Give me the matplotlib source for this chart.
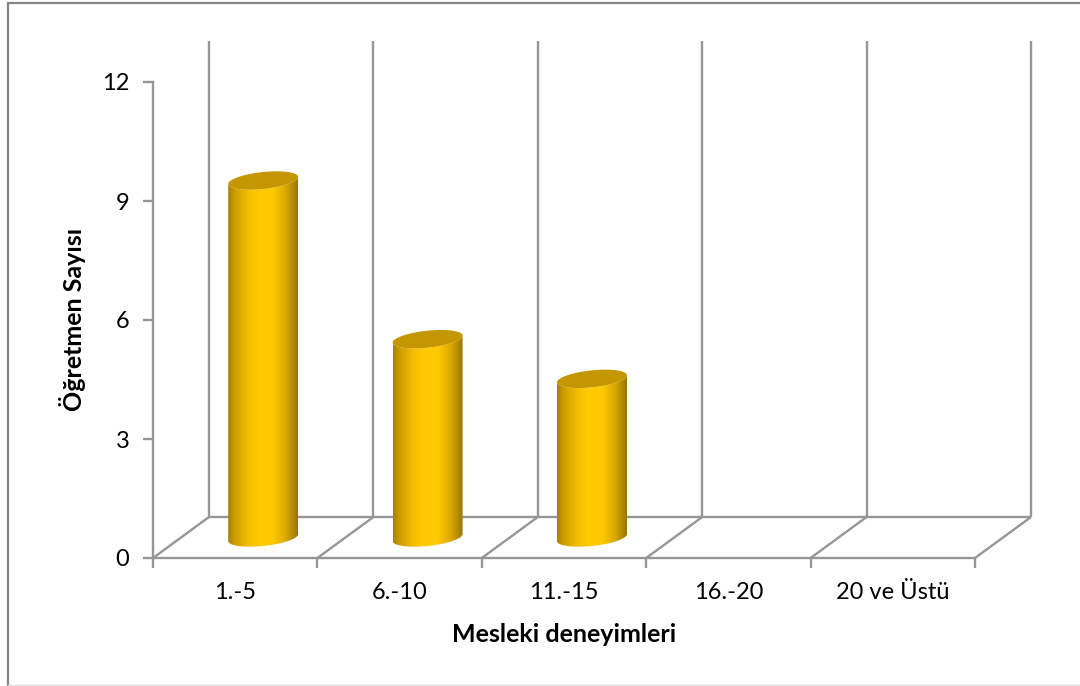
import matplotlib
matplotlib.use('Agg')
import matplotlib.pyplot as plt
import numpy as np
from matplotlib.colors import LinearSegmentedColormap
from matplotlib.lines import Line2D
from matplotlib.patches import Polygon, Rectangle

categories = ['1.-5', '6.-10', '11.-15', '16.-20', '20 ve Üstü']
teachers = [9, 5, 4, 0, 0]
y_ticks = [0, 3, 6, 9, 12]

W, H = 1080, 686
LEFT, RIGHT, TOP, BOTTOM = 153, 975, 82, 558
GREY = '#969696'
LW = 1.7

# floor depth in axis units (56 px across, 41 px up)
DEPTH_X = 56 / ((RIGHT - LEFT) / len(categories))
DEPTH_Y = 41 / ((BOTTOM - TOP) / y_ticks[-1])

plt.rcParams['font.family'] = ['Lato', 'DejaVu Sans']

fig = plt.figure(figsize=(W / 100, H / 100), dpi=100)
ax = fig.add_axes([LEFT / W, 1 - BOTTOM / H, (RIGHT - LEFT) / W, (BOTTOM - TOP) / H])
ax.patch.set_visible(False)

# chart frame
fig.add_artist(Rectangle((8 / W, -1 / H), 1.2, 1 - 2 / H, transform=fig.transFigure,
                         fill=False, edgecolor='#868686', linewidth=1.6))
fig.add_artist(Line2D([8 / W, 1], [1 / H, 1 / H], transform=fig.transFigure,
                      color='#dcdcdc', lw=1))

n = len(categories)
ax.set_xlim(0, n)
ax.set_ylim(0, y_ticks[-1])


def wall(xs, ys):
    ax.plot(xs, ys, color=GREY, lw=LW, clip_on=False, solid_capstyle='butt', zorder=1)


# back wall, floor and the diagonals
for i in range(n + 1):
    wall([i + DEPTH_X] * 2, [DEPTH_Y, y_ticks[-1] + DEPTH_Y])
    wall([i, i + DEPTH_X], [0, DEPTH_Y])
wall([DEPTH_X, n + DEPTH_X], [DEPTH_Y, DEPTH_Y])

for s in ['top', 'right']:
    ax.spines[s].set_visible(False)
for s in ['left', 'bottom']:
    ax.spines[s].set_color(GREY)
    ax.spines[s].set_linewidth(LW)

ax.set_xticks(range(n + 1))
ax.set_xticklabels([])
ax.set_xticks(np.arange(n) + 0.5, categories, minor=True)
ax.set_yticks(y_ticks)
ax.tick_params(axis='both', which='major', color=GREY, width=LW, length=7, labelsize=17, pad=10)
ax.tick_params(axis='x', which='minor', length=0, labelsize=17, pad=17, labelcolor='black')

# cylinders
body_cmap = LinearSegmentedColormap.from_list(
    'body', [(0, '#a87f00'), (0.1, '#cf9f00'), (0.3, '#f5bf00'), (0.45, '#ffcb00'),
             (0.65, '#ffc800'), (0.82, '#dcaa00'), (1, '#9a7608')])
top_colour = '#c49600'
radius = 35 / ((RIGHT - LEFT) / n)
ry = 8.5 / ((BOTTOM - TOP) / y_ticks[-1])
tilt = 3.5 / ((BOTTOM - TOP) / y_ticks[-1])
t = np.linspace(0, 2 * np.pi, 120)
gradient = np.linspace(0, 1, 256).reshape(1, -1)

for i, v in enumerate(teachers):
    if v == 0:
        continue
    cx = i + 0.5 + DEPTH_X / 2
    cy = DEPTH_Y / 2

    def rim(base):
        return cx + radius * np.cos(t), base + ry * np.sin(t) + tilt * np.cos(t)

    bx, by = rim(cy)
    tx, ty = rim(cy + v)
    lower = np.sin(t) <= 0
    # body outline: lower half of the base rim, then back over the top rim
    low = np.argsort(bx[lower])
    px = np.r_[bx[lower][low], tx[lower][low][::-1]]
    py = np.r_[by[lower][low], ty[lower][low][::-1]]
    outline = Polygon(np.c_[px, py], closed=True, transform=ax.transData, facecolor='none',
                      edgecolor='none')
    ax.add_patch(outline)
    im = ax.imshow(gradient, cmap=body_cmap, aspect='auto', zorder=3, clip_on=True,
                   extent=[cx - radius, cx + radius, cy - ry - tilt, cy + v + ry + tilt])
    im.set_clip_path(outline)
    ax.fill(tx, ty, color=top_colour, zorder=4, lw=0)

ax.set_xlim(0, n)
ax.set_ylim(0, y_ticks[-1])

fig.text(564 / W, 1 - 635 / H, 'Mesleki deneyimleri', ha='center', va='center',
         fontsize=18, fontweight='bold')
fig.text(72 / W, 1 - 319 / H, 'Öğretmen Sayısı', ha='center', va='center', rotation=90,
         fontsize=18, fontweight='bold')

fig.savefig('out.png', dpi=100)
